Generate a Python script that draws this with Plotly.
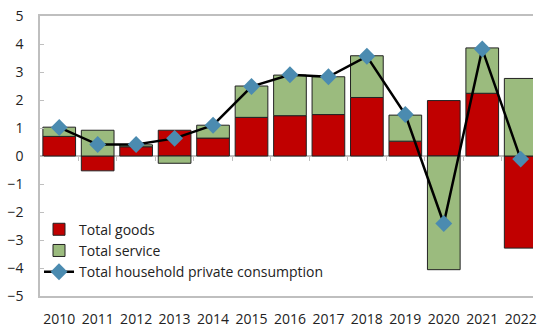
import plotly.graph_objects as go

years = ["2010", "2011", "2012", "2013", "2014", "2015", "2016",
         "2017", "2018", "2019", "2020", "2021", "2022"]
goods = [0.70, -0.53, 0.33, 0.92, 0.64, 1.38, 1.44, 1.48, 2.09, 0.53, 1.98, 2.24, -3.29]
services = [0.33, 0.92, 0.07, -0.26, 0.46, 1.12, 1.45, 1.35, 1.49, 0.93, -4.06, 1.62, 2.77]
total = [1.02, 0.41, 0.41, 0.63, 1.10, 2.48, 2.90, 2.83, 3.56, 1.48, -2.41, 3.82, -0.11]

y_ticks = [-5, -4, -3, -2, -1, 0, 1, 2, 3, 4, 5]

font_family = "Open Sans, Noto Sans, sans-serif"
grey = "#BFBFBF"
x_pos = list(range(len(years)))
x_range = [-0.5, 12.32]

fig = go.Figure()
fig.add_trace(go.Bar(
    x=x_pos, y=goods, name="Total goods",
    marker=dict(color="#C00000", line=dict(color="#222222", width=1)),
))
fig.add_trace(go.Bar(
    x=x_pos, y=services, name="Total service",
    marker=dict(color="#9BBB7E", line=dict(color="#222222", width=1)),
))
fig.add_trace(go.Scatter(
    x=x_pos, y=total, name="Total household private consumption",
    mode="lines+markers",
    line=dict(color="black", width=2.5),
    marker=dict(symbol="diamond", size=13, color="#4B8BB0"),
))

# category separators along the zero line
fig.add_trace(go.Scatter(x=[None], y=[None], xaxis="x2", showlegend=False))

fig.update_layout(
    width=537, height=328,
    margin=dict(l=40, r=0, t=16, b=28),
    paper_bgcolor="white", plot_bgcolor="white",
    barmode="relative", bargap=0.15,
    font=dict(family=font_family, size=14, color="#222222"),
    showlegend=True,
    legend=dict(
        x=-0.002, y=0.294, xanchor="left", yanchor="top",
        bgcolor="rgba(0,0,0,0)", font=dict(size=14),
        tracegroupgap=0, itemwidth=30,
    ),
    xaxis=dict(
        range=x_range,
        tickmode="array", tickvals=x_pos, ticktext=years,
        showline=True, mirror=True, linecolor=grey, linewidth=1.5,
        ticks="", showgrid=False, zeroline=False,
        ticklabelstandoff=9, ticklabeloverflow="allow",
        tickfont=dict(size=14),
    ),
    xaxis2=dict(
        range=x_range, overlaying="x", anchor="free", position=0.5,
        tickmode="array", tickvals=[i + 0.5 for i in range(len(years))],
        ticks="outside", ticklen=4, tickcolor=grey, tickwidth=1,
        showticklabels=False, showline=False, showgrid=False, zeroline=False,
    ),
    yaxis=dict(
        range=[-5, 5],
        tickmode="array", tickvals=y_ticks,
        showline=True, linecolor=grey, linewidth=1.5,
        ticks="inside", ticklen=4, tickcolor=grey,
        showgrid=False,
        zeroline=True, zerolinecolor=grey, zerolinewidth=1.5,
        ticklabelstandoff=12,
        tickfont=dict(size=14),
    ),
)

fig.write_html("out.html")
